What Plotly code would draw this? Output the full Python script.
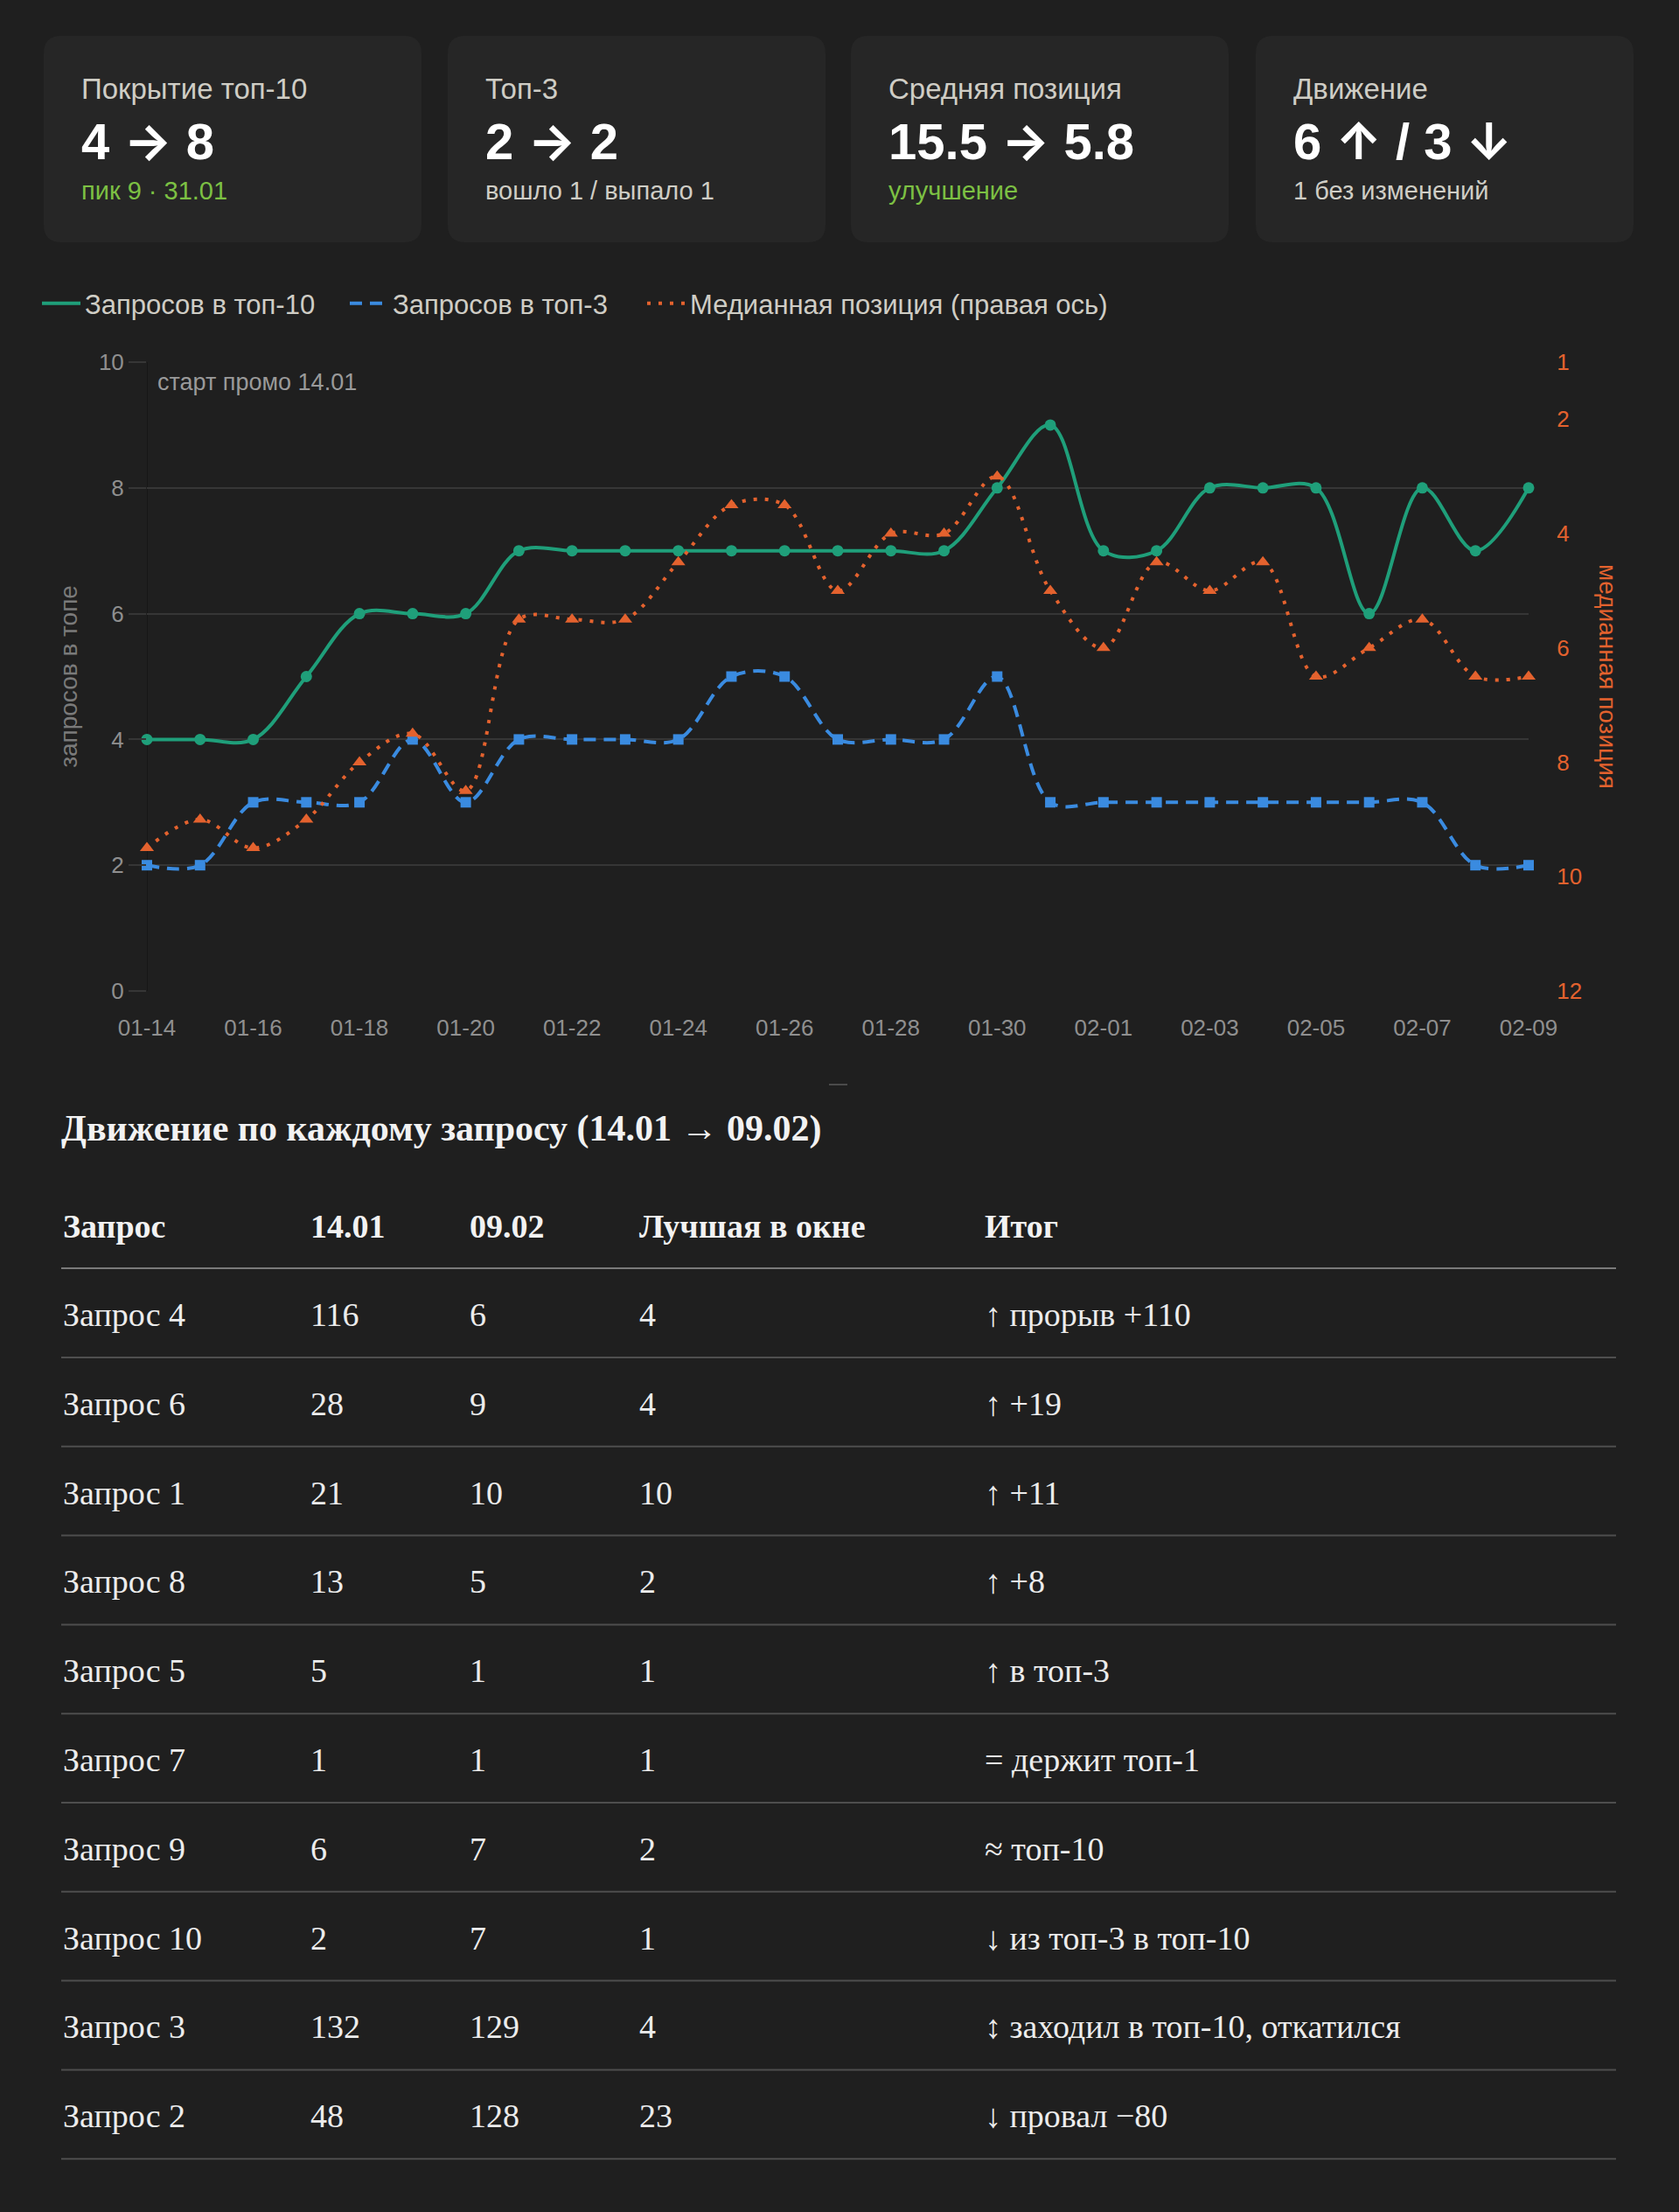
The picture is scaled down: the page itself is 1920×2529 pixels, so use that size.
import plotly.graph_objects as go
import pandas as pd

W, H = 1920, 2529

# ---------------- data ----------------
dates = pd.date_range("2025-01-14", "2025-02-09").strftime("%Y-%m-%d").tolist()
top10 = [4, 4, 4, 5, 6, 6, 6, 7, 7, 7, 7, 7, 7, 7, 7, 7, 8, 9, 7, 7, 8, 8, 8, 6, 8, 7, 8]
top3 = [2, 2, 3, 3, 3, 4, 3, 4, 4, 4, 4, 5, 5, 4, 4, 4, 5, 3, 3, 3, 3, 3, 3, 3, 3, 2, 2]
median_pos = [9.5, 9, 9.5, 9, 8, 7.5, 8.5, 5.5, 5.5, 5.5, 4.5, 3.5, 3.5, 5, 4, 4, 3, 5, 6,
              4.5, 5, 4.5, 6.5, 6, 5.5, 6.5, 6.5]
series_names = ["Запросов в топ-10", "Запросов в топ-3", "Медианная позиция (правая ось)"]
left_ticks = [0, 2, 4, 6, 8, 10]
right_ticks = [1, 2, 4, 6, 8, 10, 12]

kpi_titles = ["Покрытие топ-10", "Топ-3", "Средняя позиция", "Движение"]
kpi_values = ["4 → 8", "2 → 2", "15.5 → 5.8", "6 ↑ / 3 ↓"]
kpi_notes = ["пик 9 · 31.01", "вошло 1 / выпало 1", "улучшение", "1 без изменений"]
kpi_note_good = [True, False, True, False]

table_title = "Движение по каждому запросу (14.01 → 09.02)"
table_headers = ["Запрос", "14.01", "09.02", "Лучшая в окне", "Итог"]
queries = ["Запрос 4", "Запрос 6", "Запрос 1", "Запрос 8", "Запрос 5",
           "Запрос 7", "Запрос 9", "Запрос 10", "Запрос 3", "Запрос 2"]
pos_start = ["116", "28", "21", "13", "5", "1", "6", "2", "132", "48"]
pos_end = ["6", "9", "10", "5", "1", "1", "7", "7", "129", "128"]
pos_best = ["4", "4", "10", "2", "1", "1", "2", "1", "4", "23"]
outcome = ["↑ прорыв +110", "↑ +19", "↑ +11", "↑ +8", "↑ в топ-3",
           "= держит топ-1", "≈ топ-10", "↓ из топ-3 в топ-10",
           "↕ заходил в топ-10, откатился", "↓ провал −80"]

# ---------------- styles ----------------
BG = "#1f1f1f"
CARD = "#262626"
GREEN = "#1f9f7a"
BLUE = "#3a8be0"
ORANGE = "#e4622e"
LIGHT = "#cfcdc5"
OK_GREEN = "#7cc043"
SANS = "Liberation Sans, Arial, sans-serif"
SERIF = "Liberation Serif, Times New Roman, serif"


def px(x):
    return x / W


def py(y):
    return 1 - y / H


def bold_arrows(s):
    for a in ["→", "↑", "↓"]:
        s = s.replace(a, f'<span style="font-family:Inter">{a}</span>')
    return s


fig = go.Figure()

# ---------------- chart traces ----------------
fig.add_trace(go.Scatter(x=dates, y=top10, name=series_names[0], mode="lines", legendwidth=293,
                         line=dict(color=GREEN, width=4, shape="spline", smoothing=1),
                         hoverinfo="skip"))
fig.add_trace(go.Scatter(x=dates, y=top3, name=series_names[1], mode="lines", legendwidth=281,
                         line=dict(color=BLUE, width=4, shape="spline", smoothing=1, dash="14px,9px"),
                         hoverinfo="skip"))
fig.add_trace(go.Scatter(x=dates, y=median_pos, name=series_names[2], mode="lines", yaxis="y2",
                         line=dict(color=ORANGE, width=4, shape="spline", smoothing=1, dash="4px,9px"),
                         hoverinfo="skip"))
fig.add_trace(go.Scatter(x=dates, y=top10, mode="markers", showlegend=False, cliponaxis=False,
                         marker=dict(color=GREEN, size=13, symbol="circle")))
fig.add_trace(go.Scatter(x=dates, y=top3, mode="markers", showlegend=False, cliponaxis=False,
                         marker=dict(color=BLUE, size=12, symbol="square")))
fig.add_trace(go.Scatter(x=dates, y=median_pos, mode="markers", showlegend=False, yaxis="y2",
                         cliponaxis=False, marker=dict(color=ORANGE, size=14, symbol="triangle-up")))

shapes = []
annotations = []

# ---------------- KPI cards ----------------
card_x = [50, 512, 973, 1436]
card_w = 432
card_top, card_bot = 41, 277
r = 20
for i, cx in enumerate(card_x):
    x0, x1 = cx, cx + card_w
    y0, y1 = card_top, card_bot
    path = (f"M {px(x0 + r)} {py(y0)} L {px(x1 - r)} {py(y0)} "
            f"Q {px(x1)} {py(y0)} {px(x1)} {py(y0 + r)} "
            f"L {px(x1)} {py(y1 - r)} Q {px(x1)} {py(y1)} {px(x1 - r)} {py(y1)} "
            f"L {px(x0 + r)} {py(y1)} Q {px(x0)} {py(y1)} {px(x0)} {py(y1 - r)} "
            f"L {px(x0)} {py(y0 + r)} Q {px(x0)} {py(y0)} {px(x0 + r)} {py(y0)} Z")
    shapes.append(dict(type="path", xref="paper", yref="paper", path=path,
                       fillcolor=CARD, line=dict(width=0), layer="below"))
    tx = px(cx + 41)
    annotations.append(dict(xref="paper", yref="paper", x=tx, y=py(102), xanchor="left",
                            yanchor="middle", showarrow=False, text=kpi_titles[i],
                            font=dict(family=SANS, size=33, color=LIGHT)))
    annotations.append(dict(xref="paper", yref="paper", x=tx, y=py(161), xanchor="left",
                            yanchor="middle", showarrow=False,
                            text=f"<b>{bold_arrows(kpi_values[i])}</b>",
                            font=dict(family=SANS, size=58, color="#ffffff")))
    annotations.append(dict(xref="paper", yref="paper", x=tx, y=py(218), xanchor="left",
                            yanchor="middle", showarrow=False, text=kpi_notes[i],
                            font=dict(family=SANS, size=29,
                                      color=OK_GREEN if kpi_note_good[i] else LIGHT)))

# ---------------- chart extras ----------------
shapes.append(dict(type="line", xref="x", yref="y", x0=dates[0], x1=dates[0], y0=0, y1=10,
                   line=dict(color="#171717", width=2), layer="below"))
annotations.append(dict(xref="paper", yref="paper", x=px(178), y=py(437), xanchor="left",
                        yanchor="middle", showarrow=False, text="старт промо 14.01",
                        font=dict(family=SANS, size=27, color="#9a9a9a")))
annotations.append(dict(xref="paper", yref="paper", x=px(1839), y=py(773), xanchor="center",
                        yanchor="middle", showarrow=False, text="медианная позиция", textangle=90,
                        font=dict(family=SANS, size=28, color=ORANGE)))
shapes.append(dict(type="line", xref="paper", yref="paper", x0=px(948), x1=px(969),
                   y0=py(1240), y1=py(1240), line=dict(color="#4a4a4a", width=2)))

# ---------------- table ----------------
col_x = [70, 353, 535, 729, 1124]
annotations.append(dict(xref="paper", yref="paper", x=px(68), y=py(1291), xanchor="left",
                        yanchor="middle", showarrow=False, text=f"<b>{table_title}</b>",
                        font=dict(family=SERIF, size=42, color="#f2f2f2")))
for c, h in enumerate(table_headers):
    annotations.append(dict(xref="paper", yref="paper", x=px(col_x[c]), y=py(1402),
                            xanchor="left", yanchor="middle", showarrow=False, text=f"<b>{h}</b>",
                            font=dict(family=SERIF, size=38, color="#f2f2f2")))
shapes.append(dict(type="line", xref="paper", yref="paper", x0=px(70), x1=px(1848),
                   y0=py(1450), y1=py(1450), line=dict(color="#7a7a7a", width=2)))
pitch = 101.8
for k in range(len(queries)):
    yc = 1503 + k * pitch
    row = [queries[k], pos_start[k], pos_end[k], pos_best[k], outcome[k]]
    for c, t in enumerate(row):
        annotations.append(dict(xref="paper", yref="paper", x=px(col_x[c]), y=py(yc),
                                xanchor="left", yanchor="middle", showarrow=False, text=t,
                                font=dict(family=SERIF, size=38, color="#ececec")))
    ys = 1552 + k * pitch
    shapes.append(dict(type="line", xref="paper", yref="paper", x0=px(70), x1=px(1848),
                       y0=py(ys), y1=py(ys), line=dict(color="#4e4e4e", width=2)))

# ---------------- layout ----------------
fig.update_layout(
    width=W, height=H,
    margin=dict(l=0, r=0, t=0, b=0, autoexpand=False),
    paper_bgcolor=BG, plot_bgcolor=BG,
    showlegend=True,
    legend=dict(orientation="h", x=px(43), y=py(347), xanchor="left", yanchor="middle",
                font=dict(family=SANS, size=31, color=LIGHT), bgcolor="rgba(0,0,0,0)",
                itemwidth=44, tracegroupgap=0),
    xaxis=dict(domain=[px(168), px(1748)], range=[dates[0], dates[-1]], type="date",
               tick0=dates[0], dtick=2 * 86400000, tickformat="%m-%d", automargin=False,
               showgrid=False, zeroline=False, showline=False,
               ticks="outside", ticklen=19, tickcolor="rgba(0,0,0,0)",
               tickfont=dict(family=SANS, size=26, color="#8f8f8f"), anchor="y"),
    yaxis=dict(domain=[py(1133), py(414)], range=[0, 10], tickvals=left_ticks, automargin=False,
               showgrid=True, gridcolor="#363636", gridwidth=2, zeroline=False, showline=False,
               ticks="outside", ticklen=20, tickcolor="#363636", tickwidth=2,
               tickfont=dict(family=SANS, size=26, color="#8f8f8f"),
               title=dict(text="запросов в топе", standoff=16,
                          font=dict(family=SANS, size=28, color="#7a7a7a"))),
    yaxis2=dict(overlaying="y", side="right", range=[12, 1], tickvals=right_ticks,
                automargin=False, showgrid=False, zeroline=False, showline=False,
                ticks="outside", ticklen=26, tickcolor="rgba(0,0,0,0)",
                tickfont=dict(family=SANS, size=26, color=ORANGE)),
    shapes=shapes,
    annotations=annotations,
    hovermode=False,
)

fig.write_html("out.html")
